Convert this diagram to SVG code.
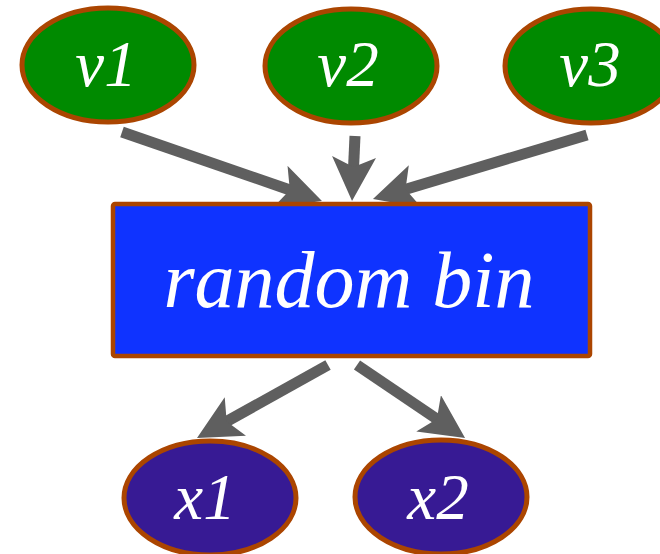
<svg xmlns="http://www.w3.org/2000/svg" width="660" height="554" viewBox="0 0 660 554">
<style>
.in{fill:#008a00;stroke:#ab4500;stroke-width:5}
.out{fill:#371a94;stroke:#ab4500;stroke-width:5}
.box{fill:#0f33ff;stroke:#ab4500;stroke-width:4.5}
.lbl{font-family:"Liberation Serif","Times New Roman",serif;font-style:italic;fill:#ffffff;text-anchor:middle}
.edge{stroke:#5f5f5f;stroke-width:11;fill:none;marker-end:url(#ah)}
</style>
<defs>
<marker id="ah" markerUnits="userSpaceOnUse" markerWidth="44" markerHeight="44" viewBox="0 0 44 44" refX="14" refY="22" orient="auto">
<path d="M44,22 L0,0 L10,22 L0,44 Z" fill="#5f5f5f"/>
</marker>
</defs>
<rect width="660" height="554" fill="#ffffff"/>
<g id="connectors">
<line class="edge" x1="122" y1="132" x2="293.6" y2="191.2"/>
<line class="edge" x1="355" y1="136" x2="353.4" y2="171"/>
<line class="edge" x1="587" y1="135" x2="401.7" y2="190.4"/>
<line class="edge" x1="328" y1="365" x2="223.2" y2="423.4"/>
<line class="edge" x1="357" y1="365" x2="440.2" y2="421.2"/>
</g>
<g id="v1"><ellipse class="in" cx="108" cy="65" rx="86" ry="57"/><text class="lbl" x="106" y="86" font-size="65">v1</text></g>
<g id="v2"><ellipse class="in" cx="351" cy="66" rx="86" ry="57"/><text class="lbl" x="348" y="86" font-size="65">v2</text></g>
<g id="v3"><ellipse class="in" cx="591" cy="66" rx="86" ry="57"/><text class="lbl" x="590" y="86" font-size="65">v3</text></g>
<g id="random-bin"><rect class="box" x="113" y="204" width="477" height="152" rx="2"/><text class="lbl" x="349" y="307" font-size="80">random bin</text></g>
<g id="x1"><ellipse class="out" cx="210" cy="498" rx="86" ry="57"/><text class="lbl" x="205" y="519" font-size="65">x1</text></g>
<g id="x2"><ellipse class="out" cx="441" cy="497" rx="86" ry="57"/><text class="lbl" x="438" y="519" font-size="65">x2</text></g>
</svg>
